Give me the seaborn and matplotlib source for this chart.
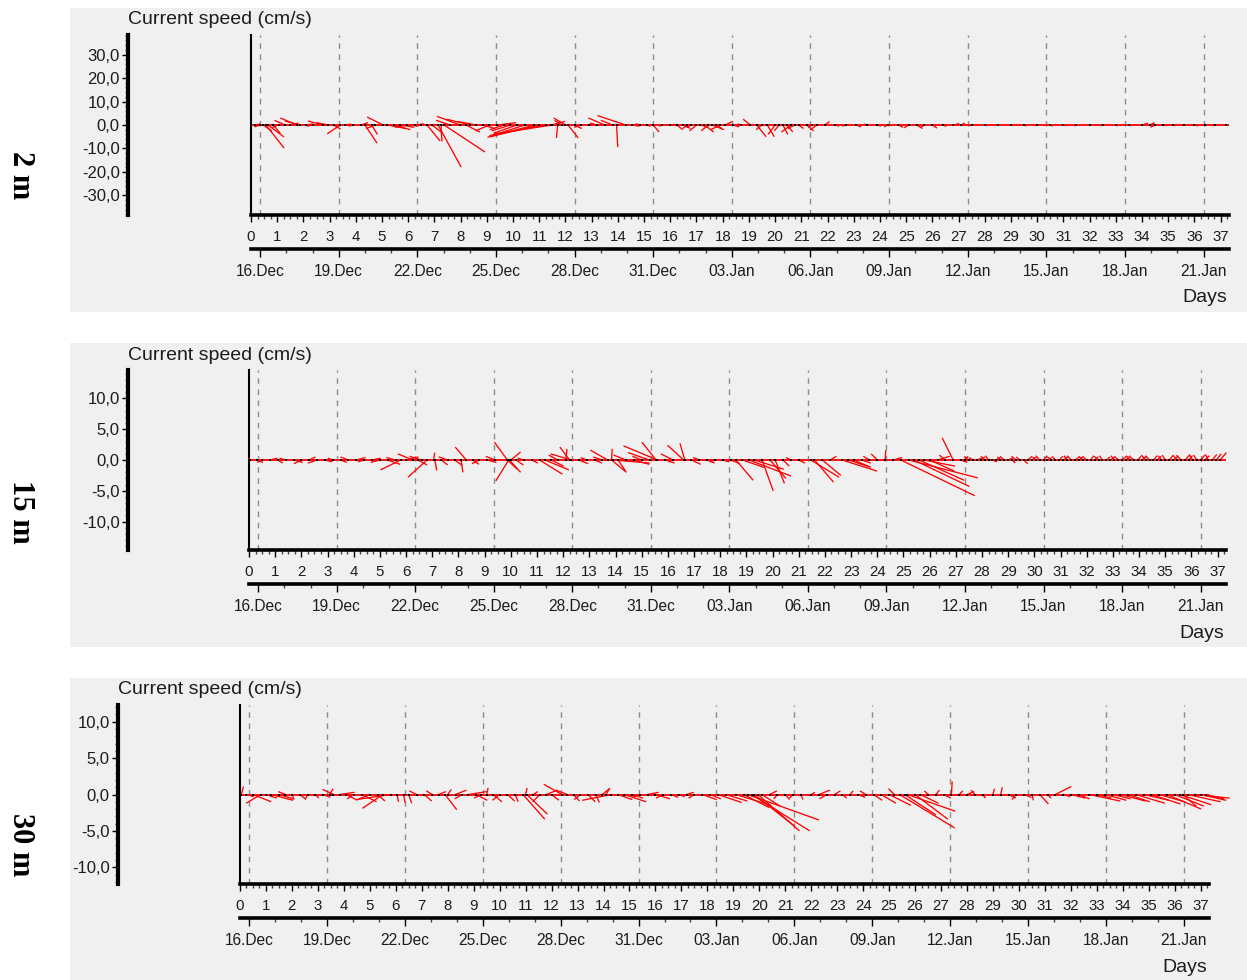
import numpy as np
import matplotlib
matplotlib.use("Agg")
import matplotlib.pyplot as plt
import seaborn as sns
from matplotlib.patches import Rectangle
from matplotlib.ticker import MultipleLocator, FixedLocator

# ---------------------------------------------------------------------------
# Current vectors (time in days since deployment, east u / north v in cm/s)
# ---------------------------------------------------------------------------
T_2M = [0.15, 0.35, 0.46, 0.57, 0.65, 0.85, 1.05, 1.30, 1.50, 1.76, 1.87, 2.10, 2.35, 2.75, 2.95,
        3.15, 3.40, 3.60, 3.90, 4.20, 4.35, 4.60, 4.75, 5.04, 5.20, 5.45, 5.70, 5.95, 6.25, 6.50,
        6.72, 6.90, 7.14, 7.25, 7.37, 7.60, 7.98, 8.20, 8.35, 8.60, 8.85, 9.10, 9.40, 9.65, 9.90,
        10.15, 10.45, 10.80, 11.00, 11.25, 11.45, 11.70, 11.85, 12.00, 12.10, 12.35, 12.60, 12.90,
        13.20, 13.50, 13.80, 13.95, 14.30, 14.55, 14.85, 15.10, 15.35, 15.70, 16.00, 16.50, 16.80,
        17.00, 17.30, 17.60, 17.90, 18.10, 18.40, 18.70, 19.05, 19.30, 19.50, 19.70, 20.00, 20.30,
        20.60, 20.90, 21.20, 21.40, 21.60, 21.90, 22.30, 22.70, 23.10, 23.50, 23.90, 24.30, 24.70,
        25.10, 25.40, 25.70, 26.00, 26.40, 26.80, 27.10, 27.50, 28.00, 28.50, 29.00, 29.50, 30.00,
        30.50, 31.00, 31.50, 32.00, 32.50, 33.00, 33.50, 34.00, 34.30, 34.50, 34.80, 35.20, 35.60,
        36.00, 36.40, 36.80, 37.20, 11.50, 16.25, 16.65, 17.15, 17.45, 17.75, 20.15, 20.45, 20.75]
U_2M = [2.0, -2.5, 3.8, 7.7, 6.8, 3.0, -3.0, -4.5, 3.5, -7.2, -6.4, 3.0, -2.5, -6.4, -5.0,
        3.0, -5.5, 2.5, -2.0, 3.0, 5.1, 2.5, -4.0, -6.8, 8.0, 7.0, 6.0, -5.0, 4.0, -2.5,
        5.5, 4.0, 9.8, 0.4, 17.4, -6.0, -9.9, 6.0, -10.0, -8.0, 5.0, -6.0, 8.0, -6.0, -8.0,
        -10.0, -14.0, -18.5, -22.0, -24.0, 6.0, -0.5, -3.0, -5.0, 4.3, 3.0, -3.0, 2.0,
        -3.0, -7.0, -5.0, 0.5, -12.0, 3.0, -2.0, 1.5, 2.5, -1.5, 2.0, 3.0, -2.0,
        -3.0, 4.0, 5.0, -4.0, 3.0, 2.5, -1.5, -3.0, 4.0, -2.5, 3.0, -3.0, 2.0,
        -4.0, 2.0, 3.0, -1.5, -3.0, 2.0, 1.5, -1.5, 2.0, -1.0, 1.5, -1.5, 2.0,
        -2.0, 2.5, -1.5, 2.0, 1.5, 2.5, 1.5, -1.0, 1.0, -1.0, 1.0, 1.0, -1.0,
        1.0, 1.5, -1.0, 1.0, -1.0, 1.0, 1.0, 2.5, 2.0, -2.0, 1.5, 1.0, -1.0,
        1.5, 1.0, -1.0, 1.0, -25.0, 2.5, -2.0, 3.5, -3.0, 2.5, -2.0, 2.5, -3.0]
V_2M = [0.4, -0.8, -2.6, -9.8, -5.1, -3.5, -1.2, 2.0, 0.8, 3.0, 1.7, 0.5, -0.5, 1.7, 1.0,
        -1.8, -3.8, 0.4, -0.5, 1.0, -7.7, -4.0, -1.5, 3.4, -1.5, -2.0, -1.0, -1.0, 0.5, -0.5,
        -6.8, -3.0, -17.9, -7.0, -11.5, 2.0, 3.7, -3.0, 2.5, 1.5, -1.5, -2.5, 1.0, -2.0, -2.5,
        -3.5, -4.5, -5.0, -5.2, -4.5, 1.5, -5.5, 2.0, 3.0, -5.5, -1.5, -1.0, 0.5,
        0.8, 3.0, 2.0, -9.4, 4.0, -0.5, 0.5, -0.5, -3.0, -0.5, 0.3, -1.5, -1.0,
        -2.5, -3.0, -2.0, -2.0, 1.5, -0.8, 0.5, 2.5, -5.0, -2.0, -5.0, -4.0, -4.0,
        -3.0, -1.5, -2.5, -1.0, -2.0, 1.5, -0.5, -0.5, -0.8, 0.4, -0.5, -0.8, -1.0,
        -1.2, -1.5, -1.0, -1.3, -0.6, 0.6, 0.8, -0.3, -0.3, -0.3, -0.2, -0.4, -0.3,
        -0.5, -0.3, -0.4, -0.2, -0.3, -0.4, -0.3, 0.8, 1.0, -1.0, -0.3, -0.3, -0.3,
        -0.4, -0.2, -0.3, -0.3, -3.8, -2.0, -1.5, -1.0, -2.5, -1.5, -2.5, -3.0, -1.5]

T_15M = [0.05, 0.30, 0.50, 0.80, 1.10, 1.40, 1.70, 2.00, 2.30, 2.60, 2.90, 3.20, 3.50, 3.80, 4.10,
         4.40, 4.70, 5.00, 5.30, 5.60, 5.80, 6.00, 6.25, 6.45, 6.60, 6.80, 7.05, 7.10, 7.35, 7.60,
         7.85, 8.10, 8.30, 8.55, 8.80, 9.10, 9.40, 9.87, 9.87, 9.92, 9.95, 10.00, 10.20, 10.50,
         10.80, 11.10, 11.30, 11.55, 11.80, 12.10, 12.25, 12.30, 12.60, 12.90, 13.20, 13.50, 13.70,
         13.85, 13.85, 13.90, 14.10, 14.40, 14.70, 15.00, 15.30, 15.55, 15.60, 15.90, 16.20, 16.60,
         16.65, 16.90, 17.20, 17.50, 17.80, 18.10, 18.40, 18.60, 18.85, 19.10, 19.30, 19.60, 19.90,
         20.10, 20.40, 20.70, 21.00, 21.46, 21.60, 21.90, 22.20, 22.65, 22.90, 23.10, 23.40, 23.70,
         24.00, 24.30, 24.60, 24.90, 25.20, 25.40, 25.60, 25.80, 26.00, 26.30, 26.60, 26.90, 27.20,
         27.50, 27.80, 28.10, 28.40, 28.70, 29.00, 29.30, 29.60, 29.90, 30.20, 30.50, 30.80, 31.10,
         31.40, 31.70, 32.00, 32.30, 32.60, 32.90, 33.20, 33.50, 33.80, 34.10, 34.40, 34.70, 35.00,
         35.30, 35.60, 35.90, 36.20, 36.50, 36.80, 37.10,
         27.35, 27.65, 27.95, 28.25, 28.55, 28.85, 29.15, 29.45, 29.75, 30.05, 30.35, 30.65, 30.95,
         31.25, 31.55, 31.85, 32.15, 32.45, 32.75, 33.05, 33.35, 33.65, 33.95, 34.25, 34.55, 34.85,
         35.15, 35.45, 35.75, 36.05, 36.35, 36.65, 36.95]
U_15M = [-0.3, 1.0, -0.8, 1.2, 0.8, -1.0, 1.5, -1.2, 1.0, -1.5, 1.2, -0.8, 1.0, -1.3, 1.5,
         -1.0, 1.4, -1.5, 2.0, -1.5, -3.3, 2.0, -2.4, 1.5, -2.0, -3.1, 0.2, 0.3, 1.0, -1.5,
         1.3, 0.3, -1.8, 1.0, -1.2, 1.5, -1.5, -2.1, 1.6, -2.1, 1.8, 1.6, 1.2, -1.0,
         1.0, 3.7, 3.9, 2.0, -1.5, 0.2, -1.6, -3.3, 1.5, -1.0, 1.2, -1.5, -2.8,
         0.1, 2.4, 6.0, 1.2, -2.0, 2.5, -1.5, -3.5, -2.3, -5.5, 1.5, -2.0, -2.6,
         -0.8, 1.5, -1.0, 1.2, -0.8, 1.0, 1.5, 2.8, 3.5, 6.8, 4.8, 1.8, 2.6,
         1.5, 1.0, -0.8, 1.0, 4.6, 3.1, 3.0, 1.0, 5.7, 3.4, 2.8, 1.5, -1.0,
         -1.0, 0.1, 1.5, 12.0, 11.2, 9.0, 7.3, 5.0, 4.0, 2.0, -1.0, -1.8, 1.0,
         -0.8, 0.8, -0.6, 0.7, -0.5, 0.8, -0.7, 0.6, 0.8, -0.6, 0.7, -0.5, 0.8,
         -0.6, 0.7, -0.7, 0.6, -0.5, 0.8, -0.6, 0.7, -0.6, 0.8, -0.7, 0.6, -0.5,
         0.8, -0.7, 0.6, -0.5, 0.8, 0.7, 1.0,
         0.5, -0.6, 0.7, -0.5, 0.6, -0.7, 0.5, -0.6, 0.7, -0.5, 0.6, -0.7, 0.6,
         -0.5, 0.7, -0.6, 0.5, -0.7, 0.6, -0.5, 0.7, -0.6, 0.5, -0.7, 0.6, -0.5,
         0.7, -0.6, 0.8, -0.6, 0.7, -0.5, 0.8]
V_15M = [0.3, -0.4, -0.4, 0.3, -0.5, 0.3, -0.4, -0.6, 0.5, -0.5, -0.3, 0.3, -0.4, 0.5, 0.4,
         -0.3, 0.3, -0.4, -0.7, 0.4, -1.6, 0.5, 1.0, -0.8, 0.6, -2.8, 1.2, -1.7, -0.8, 0.5,
         -0.9, -2.0, 2.1, -0.7, -0.6, -0.4, 0.6, 2.9, -1.5, -3.4, -2.0, 1.3, -0.8, 0.3,
         -0.5, -2.3, -1.6, -1.0, 0.8, 1.8, 2.1, 1.0, -0.6, 0.4, -0.5, 0.5, 1.6,
         1.8, -2.0, -0.5, -1.8, 0.8, -0.7, 0.6, 1.2, 2.9, 2.3, -0.5, 1.0, 2.4,
         2.7, -0.7, 0.4, -0.5, -0.3, -0.3, -0.6, -3.3, -1.2, -2.6, -1.5, -5.0, -3.0,
         -3.8, -1.0, 0.4, -0.5, -2.8, -3.6, -2.5, 0.6, -1.8, -1.1, -1.2, -0.5, 0.6,
         1.0, 1.6, 0.4, -5.8, -2.9, -4.3, -3.3, -1.0, -1.8, 0.6, 0.8, 3.6, -0.4,
         0.5, 0.3, 0.6, -0.3, 0.5, 0.4, 0.6, -0.6, 0.5, 0.7, 0.4, 0.6, 0.5,
         0.7, 0.5, 0.6, 0.5, 0.7, 0.5, 0.6, 0.7, 0.5, 0.6, 0.7, 0.6, 0.8,
         0.6, 0.8, 0.7, 0.8, 0.7, 0.9, 1.2,
         0.6, 0.4, 0.5, 0.7, 0.4, 0.6, -0.5, 0.5, 0.6, 0.5, 0.7, 0.5, 0.6,
         0.7, 0.5, 0.6, 0.7, 0.6, 0.5, 0.7, 0.6, 0.7, 0.6, 0.8, 0.7, 0.7,
         0.8, 0.7, 0.8, 0.9, 0.8, 0.9, 1.0]

T_30M = [0.05, 0.25, 0.50, 0.80, 1.00, 1.20, 1.50, 1.75, 2.00, 2.30, 2.60, 2.90, 3.20, 3.45, 3.60,
         3.85, 4.10, 4.40, 4.70, 5.00, 5.30, 5.50, 5.80, 6.05, 6.30, 6.50, 6.80, 7.10, 7.40, 7.65,
         7.90, 8.00, 8.30, 8.55, 8.80, 9.10, 9.30, 9.50, 9.75, 10.00, 10.30, 10.60, 10.90, 11.00,
         11.05, 11.30, 11.55, 11.80, 12.00, 12.40, 12.60, 12.85, 13.10, 13.40, 13.70, 13.95, 14.10,
         14.30, 14.55, 14.80, 15.10, 15.40, 15.70, 16.00, 16.30, 16.60, 16.90, 17.20, 17.50, 17.80,
         18.10, 18.40, 18.70, 19.10, 19.40, 19.55, 19.70, 19.80, 19.95, 20.10, 20.40, 20.70, 21.00,
         21.30, 21.60, 22.00, 22.30, 22.60, 22.90, 23.20, 23.50, 23.80, 24.10, 24.40, 24.70, 25.00,
         25.20, 25.40, 25.60, 25.70, 26.00, 26.20, 26.50, 26.80, 27.10, 27.40, 27.70, 28.00, 28.30,
         28.60, 29.00, 29.30, 29.60, 29.90, 30.20, 30.50, 30.80, 31.10, 31.40, 31.70, 32.00, 32.30,
         32.70, 33.00, 33.30, 33.60, 33.90, 34.20, 34.50, 34.80, 35.10, 35.40, 35.70, 36.00, 36.20,
         36.30, 36.50, 36.80, 37.00, 37.20]
U_30M = [0.3, 1.0, 2.5, -2.0, 1.5, 3.0, 2.0, -1.0, 0.3, 0.8, -0.3, 0.5, 1.0, 0.5, -1.5,
         2.0, 1.5, -1.0, 2.0, -1.5, 1.0, -2.8, -4.7, 0.2, 0.2, 0.4, -1.0, 1.0, -0.8, 1.0,
         1.6, 0.5, 1.5, -1.0, 2.5, 1.5, -1.0, 0.2, 1.2, -1.0, 1.0, 0.4, 3.0, 0.2,
         2.8, 0.6, -1.0, 1.5, 1.0, -2.5, -1.5, 0.8, -0.8, 1.0, 0.5, 1.0, 0.5,
         -4.0, 2.0, 3.0, 1.5, -1.0, 1.5, 2.0, -1.0, 1.0, 0.8, 1.0, -0.8, 2.0,
         1.5, 3.3, 3.0, 4.8, 3.5, 9.8, 8.0, 5.5, 5.7, 2.5, 1.0, -0.5, 0.6,
         -0.5, 0.3, 0.5, 1.5, -1.0, 0.8, 0.6, 0.4, 1.0, -0.8, 1.2, 2.0, 3.0,
         -0.8, 7.6, 4.3, 6.6, 4.5, 2.5, -0.5, 0.5, 1.0, 0.1, 0.5, 1.0, -0.5,
         0.4, 0.2, 0.2, 1.0, -0.6, 1.0, 0.2, 1.2, 0.5, 2.2, 1.0, 2.0, 1.5,
         4.3, 2.0, 3.0, 2.5, 3.5, 3.0, 4.0, 3.5, 4.0, 3.5, 4.7, 4.0, 4.3,
         1.9, 4.5, 4.7, 3.5, 2.5]
V_30M = [1.1, -0.3, -1.0, -1.2, -0.5, -0.8, -0.6, 0.4, -0.7, -0.6, -0.7, -0.5, -0.4, 0.8, 0.7,
         0.3, -0.8, -0.6, -1.0, -0.6, -0.9, -1.9, -0.7, -1.0, -1.1, -1.2, 0.5, -0.9, 0.5, 0.4,
         -2.1, 0.7, 0.6, -0.6, 0.4, -0.8, -0.5, 0.9, -1.0, -0.8, -0.9, -1.0, -3.4, 0.9,
         -2.7, 0.4, -1.0, 0.6, -0.8, 1.4, 0.6, -0.9, -0.7, -1.0, -1.1, 0.8, 0.9,
         -0.8, -0.7, -1.0, -0.5, -0.4, 0.3, -0.6, -0.5, -0.4, -0.3, 0.3, -0.5, -0.7,
         -0.6, -1.1, -0.9, -1.5, -1.8, -3.5, -5.0, -4.3, -5.0, -1.6, 0.5, -0.6, -0.7,
         -0.5, -0.7, 0.3, 0.6, -0.6, 0.5, -0.5, 0.5, -0.4, 0.5, -0.8, -1.2, -1.5,
         0.8, -4.6, -2.8, -2.3, -3.4, -1.2, 0.5, 0.6, -0.5, 1.8, 0.5, 0.4, 0.6,
         -0.5, 0.8, 1.0, -0.5, -0.7, -0.4, -0.8, -1.3, -0.5, 1.1, -0.3, -0.5, -0.6,
         -0.9, -0.5, -0.8, -0.6, -0.9, -1.0, -1.2, -0.8, -1.3, -1.0, -2.0, -1.6, -1.4,
         -1.6, -1.0, -0.5, -0.8, -0.6]

DAY_TICKS = list(range(38))
DATE_LABELS = ["16.Dec", "19.Dec", "22.Dec", "25.Dec", "28.Dec", "31.Dec", "03.Jan",
               "06.Jan", "09.Jan", "12.Jan", "15.Jan", "18.Jan", "21.Jan"]
DATE_OFFSET = 0.35          # 16.Dec 00:00 in days since start
DEPTHS = ["2 m", "15 m", "30 m"]

# ---------------------------------------------------------------------------
W, H = 1247, 980
XMAX = 37.32
PANEL_BG = "#f0f0f0"
TEXT = "#1c1c1c"

sns.set_theme(style="white")
plt.rcParams["font.family"] = ["Liberation Sans", "DejaVu Sans"]

fig = plt.figure(figsize=(W / 100, H / 100), dpi=100, facecolor="white")


def fx(px):
    return px / W


def fy(py):
    return 1 - py / H


date_ticks = DATE_OFFSET + 3 * np.arange(len(DATE_LABELS))
date_minor = DATE_OFFSET + np.arange(38)
date_minor = date_minor[date_minor <= XMAX]


def fmt_comma(val):
    return f"{val:.1f}".replace(".", ",")


def draw_panel(t, u, v, depth, ylim, ymajor, yminor, geo):
    (bg_top, bg_bot, left, right, top, bottom,
     yaxis_x, date_y, title_y, days_x, days_y, depth_y) = geo

    fig.add_artist(Rectangle((fx(70), fy(bg_bot)), fx(1247) - fx(70), fy(bg_top) - fy(bg_bot),
                             transform=fig.transFigure, facecolor=PANEL_BG,
                             edgecolor="none", zorder=-5))

    ax = fig.add_axes([fx(left), fy(bottom), fx(right) - fx(left), fy(top) - fy(bottom)])
    ax.set_facecolor("none")

    t = np.asarray(t, float)
    zero = np.zeros_like(t)

    for d in date_ticks:
        ax.axvline(d, color="#8c8c8c", lw=1.0, ls=(0, (4, 4)), zorder=1)
    ax.axhline(0, color="red", lw=1.3, zorder=2)
    ax.quiver(t, zero, u, v, angles="uv", scale_units="y", scale=1,
              units="dots", width=1.3, headwidth=0, headlength=0, headaxislength=0,
              minlength=0, color="red", zorder=3, clip_on=False)
    sns.scatterplot(x=t, y=zero, ax=ax, color="black", s=1.0, marker="s",
                    linewidth=0, zorder=4, legend=False)

    ax.set_xlim(0, XMAX)
    ax.set_ylim(-ylim, ylim)
    ax.set_xlabel("")
    ax.set_ylabel("")

    for s in ("top", "right"):
        ax.spines[s].set_visible(False)
    ax.spines["left"].set_linewidth(1.5)
    ax.spines["left"].set_color("black")
    ax.spines["bottom"].set_linewidth(2.6)
    ax.spines["bottom"].set_color("black")

    ax.set_xticks(DAY_TICKS, labels=[str(d) for d in DAY_TICKS])
    ax.xaxis.set_minor_locator(MultipleLocator(0.25))
    ax.tick_params(axis="x", which="major", direction="out", length=5, width=1,
                   color="black", labelsize=10.8, pad=6, labelcolor=TEXT, bottom=True)
    ax.tick_params(axis="x", which="minor", direction="out", length=3, width=1,
                   color="#444444", bottom=True)
    ax.set_yticks([])
    ax.tick_params(axis="y", left=False, labelleft=False)

    # detached value axis
    ay = ax.secondary_yaxis(-(left - yaxis_x) / (right - left))
    ay.set_yticks(ymajor, labels=[fmt_comma(y) for y in ymajor])
    ay.yaxis.set_minor_locator(MultipleLocator(yminor))
    ay.spines["left"].set_linewidth(3)
    ay.spines["left"].set_color("black")
    ay.tick_params(axis="y", which="major", direction="out", length=4, width=1,
                   color="black", labelsize=12, pad=2, labelcolor=TEXT, left=True)
    ay.tick_params(axis="y", which="minor", direction="out", length=2, width=1,
                   color="#555555", left=True)
    ay.patch.set_visible(False)

    # calendar axis
    ad = ax.secondary_xaxis(-(date_y - bottom) / (bottom - top))
    ad.set_xticks(date_ticks, labels=DATE_LABELS)
    ad.xaxis.set_minor_locator(FixedLocator(date_minor))
    ad.spines["bottom"].set_linewidth(2.6)
    ad.spines["bottom"].set_color("black")
    ad.tick_params(axis="x", which="major", direction="out", length=6, width=1,
                   color="black", labelsize=11.2, pad=5, labelcolor=TEXT, bottom=True)
    ad.tick_params(axis="x", which="minor", direction="out", length=3, width=1,
                   color="#444444", bottom=True)
    ad.patch.set_visible(False)

    fig.text(fx(yaxis_x), fy(title_y), "Current speed (cm/s)", ha="left", va="center",
             fontsize=14, color=TEXT)
    fig.text(fx(days_x), fy(days_y), "Days", ha="right", va="center",
             fontsize=14, color=TEXT)
    fig.text(fx(20), fy(depth_y), depth, rotation=270, ha="center", va="center",
             family=["Liberation Serif", "DejaVu Serif"], weight="bold", fontsize=22,
             color="black")


draw_panel(T_2M, U_2M, V_2M, DEPTHS[0], 38.3, [-30, -20, -10, 0, 10, 20, 30], 2,
           (8, 312, 251, 1229, 35, 215, 128, 249, 20, 1227, 298, 175))
draw_panel(T_15M, U_15M, V_15M, DEPTHS[1], 14.6, [-10, -5, 0, 5, 10], 1,
           (343, 647, 249, 1226, 370, 550, 128, 584, 355, 1224, 633, 512))
draw_panel(T_30M, U_30M, V_30M, DEPTHS[2], 12.3, [-10, -5, 0, 5, 10], 1,
           (678, 980, 240, 1209, 705, 884, 118, 918, 690, 1207, 967, 845))

fig.savefig("out.png", dpi=100, facecolor="white")
